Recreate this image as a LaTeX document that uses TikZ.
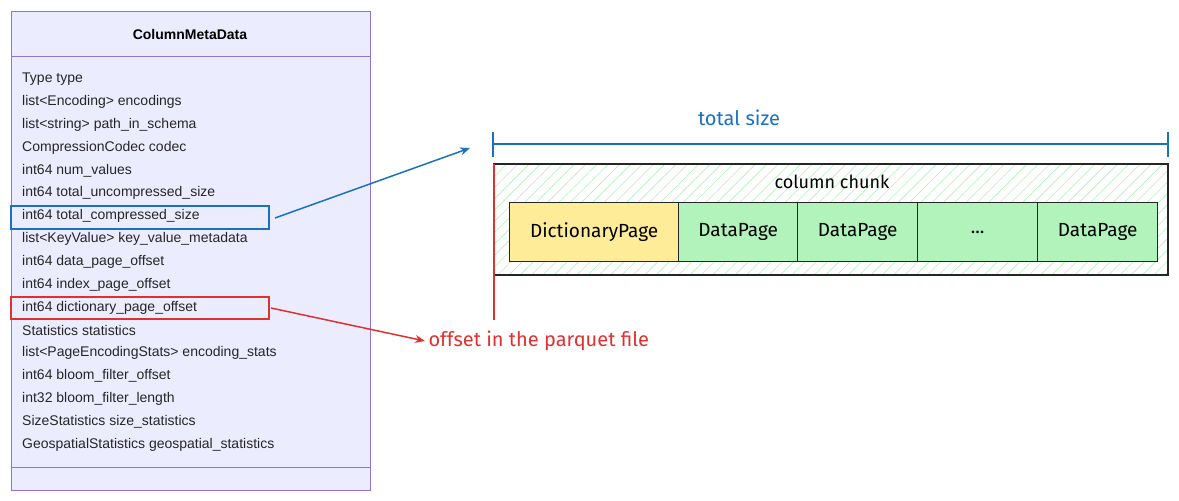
\documentclass[tikz,border=0pt]{standalone}
\usepackage{fontspec}
\setmainfont{Liberation Sans}
\newfontfamily\hand{Fira Sans}
\usetikzlibrary{patterns,patterns.meta,arrows.meta}
\definecolor{lav}{HTML}{ECECFF}
\definecolor{lavb}{HTML}{9370DB}
\definecolor{bl}{HTML}{1971C2}
\definecolor{rd}{HTML}{E03131}
\definecolor{yel}{HTML}{FFEC99}
\definecolor{grn}{HTML}{B2F2BB}
\definecolor{hatch}{HTML}{B2F2BB}
\begin{document}
\begin{tikzpicture}[x=1pt,y=-1pt,
  row/.style={anchor=west,inner sep=0pt,font=\fontsize{14}{16}\selectfont,text=black!85},
  page/.style={draw=black!85,line width=1.3pt,minimum height=59pt,anchor=north west,inner sep=0pt,font=\hand\fontsize{19}{22}\selectfont},
  arr/.style={line width=1.5pt,-{Stealth[length=10pt,width=8pt]}}]
\useasboundingbox (0,0) rectangle (1179,501);
% class box
\draw[lavb,fill=lav,line width=1pt] (11,11) rectangle (370,490);
\draw[lavb,line width=1pt] (11,56) -- (370,56);
\draw[lavb,line width=1pt] (11,467) -- (370,467);
\node[font=\bfseries\fontsize{14}{16}\selectfont] (title) at (190,34) {ColumnMetaData};
\foreach \t [count=\i from 0] in {Type type,list<Encoding> encodings,list<string> path\_in\_schema,CompressionCodec codec,int64 num\_values,int64 total\_uncompressed\_size,int64 total\_compressed\_size,list<KeyValue> key\_value\_metadata,int64 data\_page\_offset,int64 index\_page\_offset,int64 dictionary\_page\_offset,Statistics statistics,list<PageEncodingStats> encoding\_stats,int64 bloom\_filter\_offset,int32 bloom\_filter\_length,SizeStatistics size\_statistics,GeospatialStatistics geospatial\_statistics}
  \node[row] (r\i) at (22,{79+\i*22.85}) {\t};
\draw[bl,line width=1.5pt] (11,206) rectangle (269,229);
\draw[rd,line width=1.5pt] (11,297) rectangle (269,319);
\coordinate (bs) at (275,218);
\coordinate (rs) at (271,308);
% total size
\node[text=bl,font=\hand\fontsize{20}{24}\selectfont] (ts) at (739,118) {total size};
\draw[bl,line width=1.3pt] (493,144) -- (1168,144);
\draw[bl,line width=1.3pt] (493,132) -- (493,157);
\draw[bl,line width=1.3pt] (1168,132) -- (1168,157);
\coordinate (bt) at (470,148);
% chunk
\fill[white] (494,164) rectangle (1168,275);
\fill[pattern={Lines[angle=45,distance=8pt,line width=0.6pt]},pattern color=hatch] (494,164) rectangle (1168,275);
\draw[black!85,line width=1.5pt] (494,164) rectangle (1168,275);
\node[font=\hand\fontsize{18}{22}\selectfont] (cc) at (832,182) {column chunk};
\node[page,fill=yel,minimum width=169pt] (d) at (509,202) {DictionaryPage};
\node[page,fill=grn,minimum width=119pt] (p1) at (678,202) {DataPage};
\node[page,fill=grn,minimum width=120pt] (p2) at (797,202) {DataPage};
\node[page,fill=grn,minimum width=120pt] (p3) at (917,202) {...};
\node[page,fill=grn,minimum width=120pt] (p4) at (1037,202) {DataPage};
\draw[rd,line width=2.5pt] (494,164) -- (494,320);
\node[anchor=west,text=rd,font=\hand\fontsize{20}{24}\selectfont] (off) at (425,341) {offset in the parquet file};
\draw[arr,bl] (bs) -- (bt);
\draw[arr,rd] (rs) -- (off.west);
\end{tikzpicture}
\end{document}
